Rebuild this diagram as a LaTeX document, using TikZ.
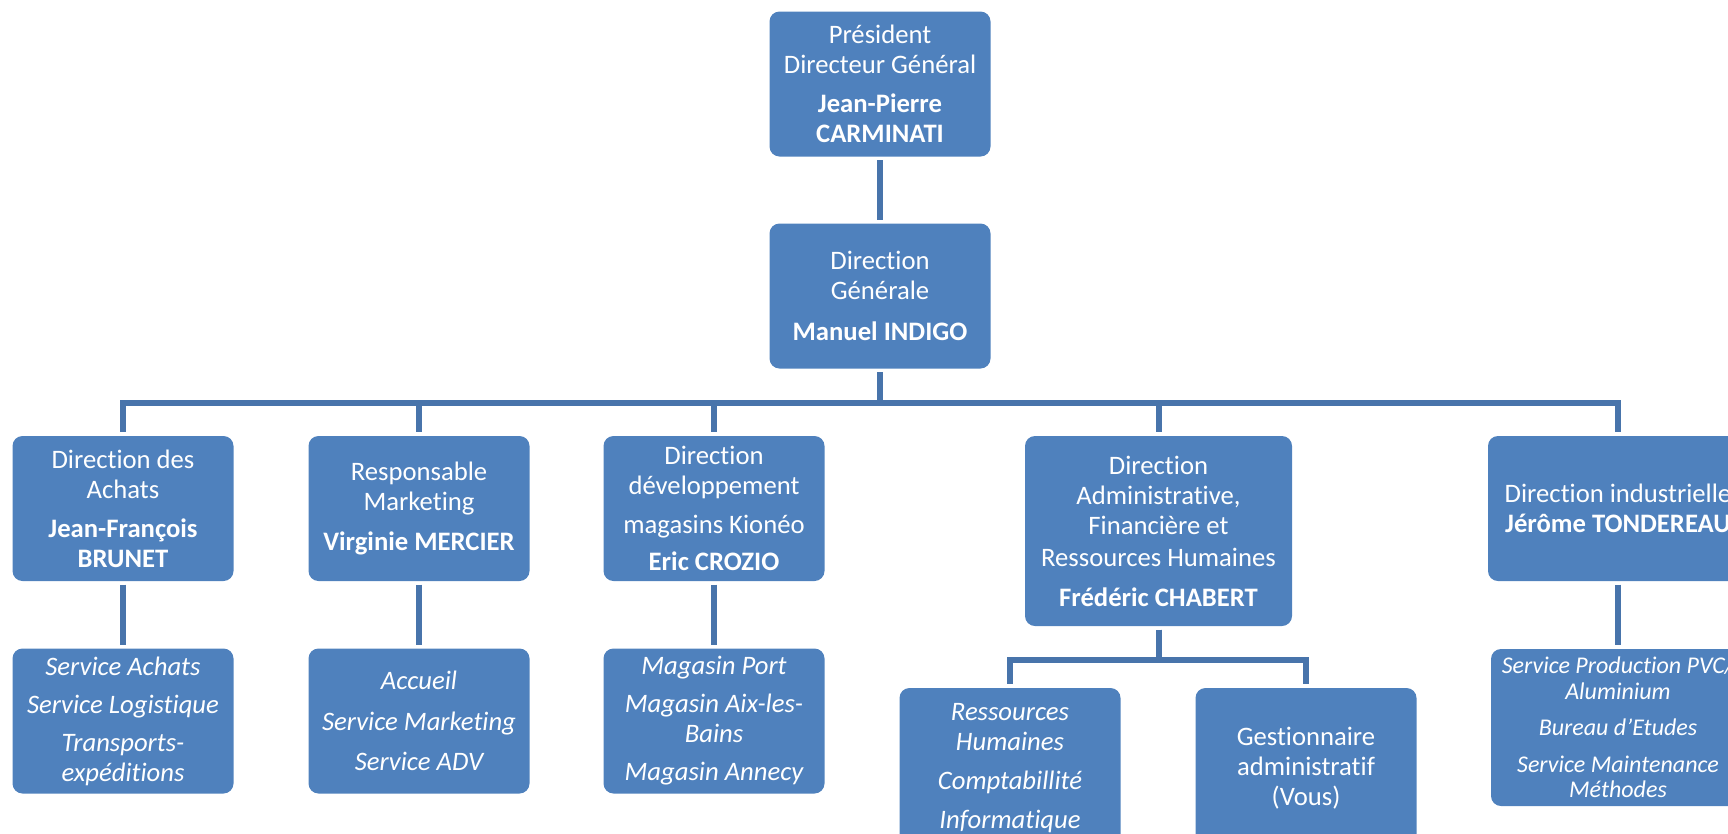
\documentclass[tikz,border=0pt]{standalone}
\usepackage{fontspec}
\setmainfont[Ligatures=NoCommon]{Carlito}
\usetikzlibrary{positioning}
\definecolor{boxblue}{HTML}{4F81BD}
\definecolor{linkblue}{HTML}{4874AB}
\colorlet{boxcolor}{boxblue}
\colorlet{linkcolor}{linkblue}
\tikzset{
    unit/.style = {rectangle, rounded corners=7.5pt, fill=boxcolor, text=white, align=center,
        inner sep=1pt, font=\fontsize{20}{22.5}\selectfont, minimum width=165.75pt, minimum height=108.75pt},
    service/.style = {unit, font=\fontsize{20}{22.5}\selectfont\itshape},
    small service/.style = {unit, font=\fontsize{18}{19.3}\selectfont\itshape},
    link/.style = {linkcolor, line width=4.5pt, shorten <=2.5pt, shorten >=2.5pt}
}

\begin{document}
\begin{tikzpicture}[x=0.75pt, y=-0.75pt]
        % page size and clipping
        \useasboundingbox (0, 0) rectangle (1728, 833);
        \clip (0, 0) rectangle (1728, 833);
        % draw top of the chart
        \node[unit] (pdg) at (880, 84) {Président\\Directeur Général\\[7pt]\textbf{Jean-Pierre}\\\textbf{CARMINATI}};
        \node[unit] (dg) at (880, 296) {Direction\\Générale\\[8pt]\textbf{Manuel INDIGO}};
        % draw directions
        \node[unit] (achats) at (123, 508.5) {Direction des\\Achats\\[7pt]\textbf{Jean-François}\\\textbf{BRUNET}};
        \node[unit] (marketing) at (419, 508.5) {Responsable\\Marketing\\[7pt]\textbf{Virginie MERCIER}};
        \node[unit] (kioneo) at (714, 508.5) {Direction\\développement\\[7pt]magasins Kionéo\\[5pt]\textbf{Eric CROZIO}};
        \node[unit, minimum width=200.25pt, minimum height=142.5pt] (daf) at (1158.5, 531)
            {Direction\\Administrative,\\Financière et\\[2pt]Ressources Humaines\\[7pt]\textbf{Frédéric CHABERT}};
        \node[unit, minimum width=195pt] (indus) at (1618, 508.5) {Direction industrielle\\\textbf{Jérôme TONDEREAU}};
        % draw services
        \node[service] (achats services) at (123, 721) {Service Achats\\[6pt]Service Logistique\\[6pt]Transports-\\expéditions};
        \node[service] (marketing services) at (419, 721) {Accueil\\[8pt]Service Marketing\\[8pt]Service ADV};
        \node[service] (kioneo services) at (714, 721) {Magasin Port\\[6pt]Magasin Aix-les-\\Bains\\[6pt]Magasin Annecy};
        \node[small service, minimum width=190.5pt, minimum height=117.75pt] (indus services) at (1618, 727.5)
            {Service Production PVC/\\Aluminium\\[8pt]Bureau d'Etudes\\[8pt]Service Maintenance\\Méthodes};
        \node[service, minimum height=120pt] (rh) at (1010, 768) {Ressources\\Humaines\\[7pt]Comptabillité\\[7pt]Informatique};
        \node[unit, minimum height=120pt] (gest) at (1306, 768) {Gestionnaire\\administratif\\(Vous)};
        % draw links
        \coordinate (bar) at (0, 402.5);
        \coordinate (daf bar) at (0, 660);
        \draw[link] (pdg) -- (dg);
        \foreach \dir in {achats, marketing, kioneo, daf, indus}
            \draw[link] (dg.south) -- (dg.south |- bar) -| (\dir.north);
        \foreach \dir in {achats, marketing, kioneo, indus}
            \draw[link] (\dir.south) -- (\dir\space services.north);
        \foreach \serv in {rh, gest}
            \draw[link] (daf.south) -- (daf.south |- daf bar) -| (\serv.north);
    \end{tikzpicture}
\end{document}
